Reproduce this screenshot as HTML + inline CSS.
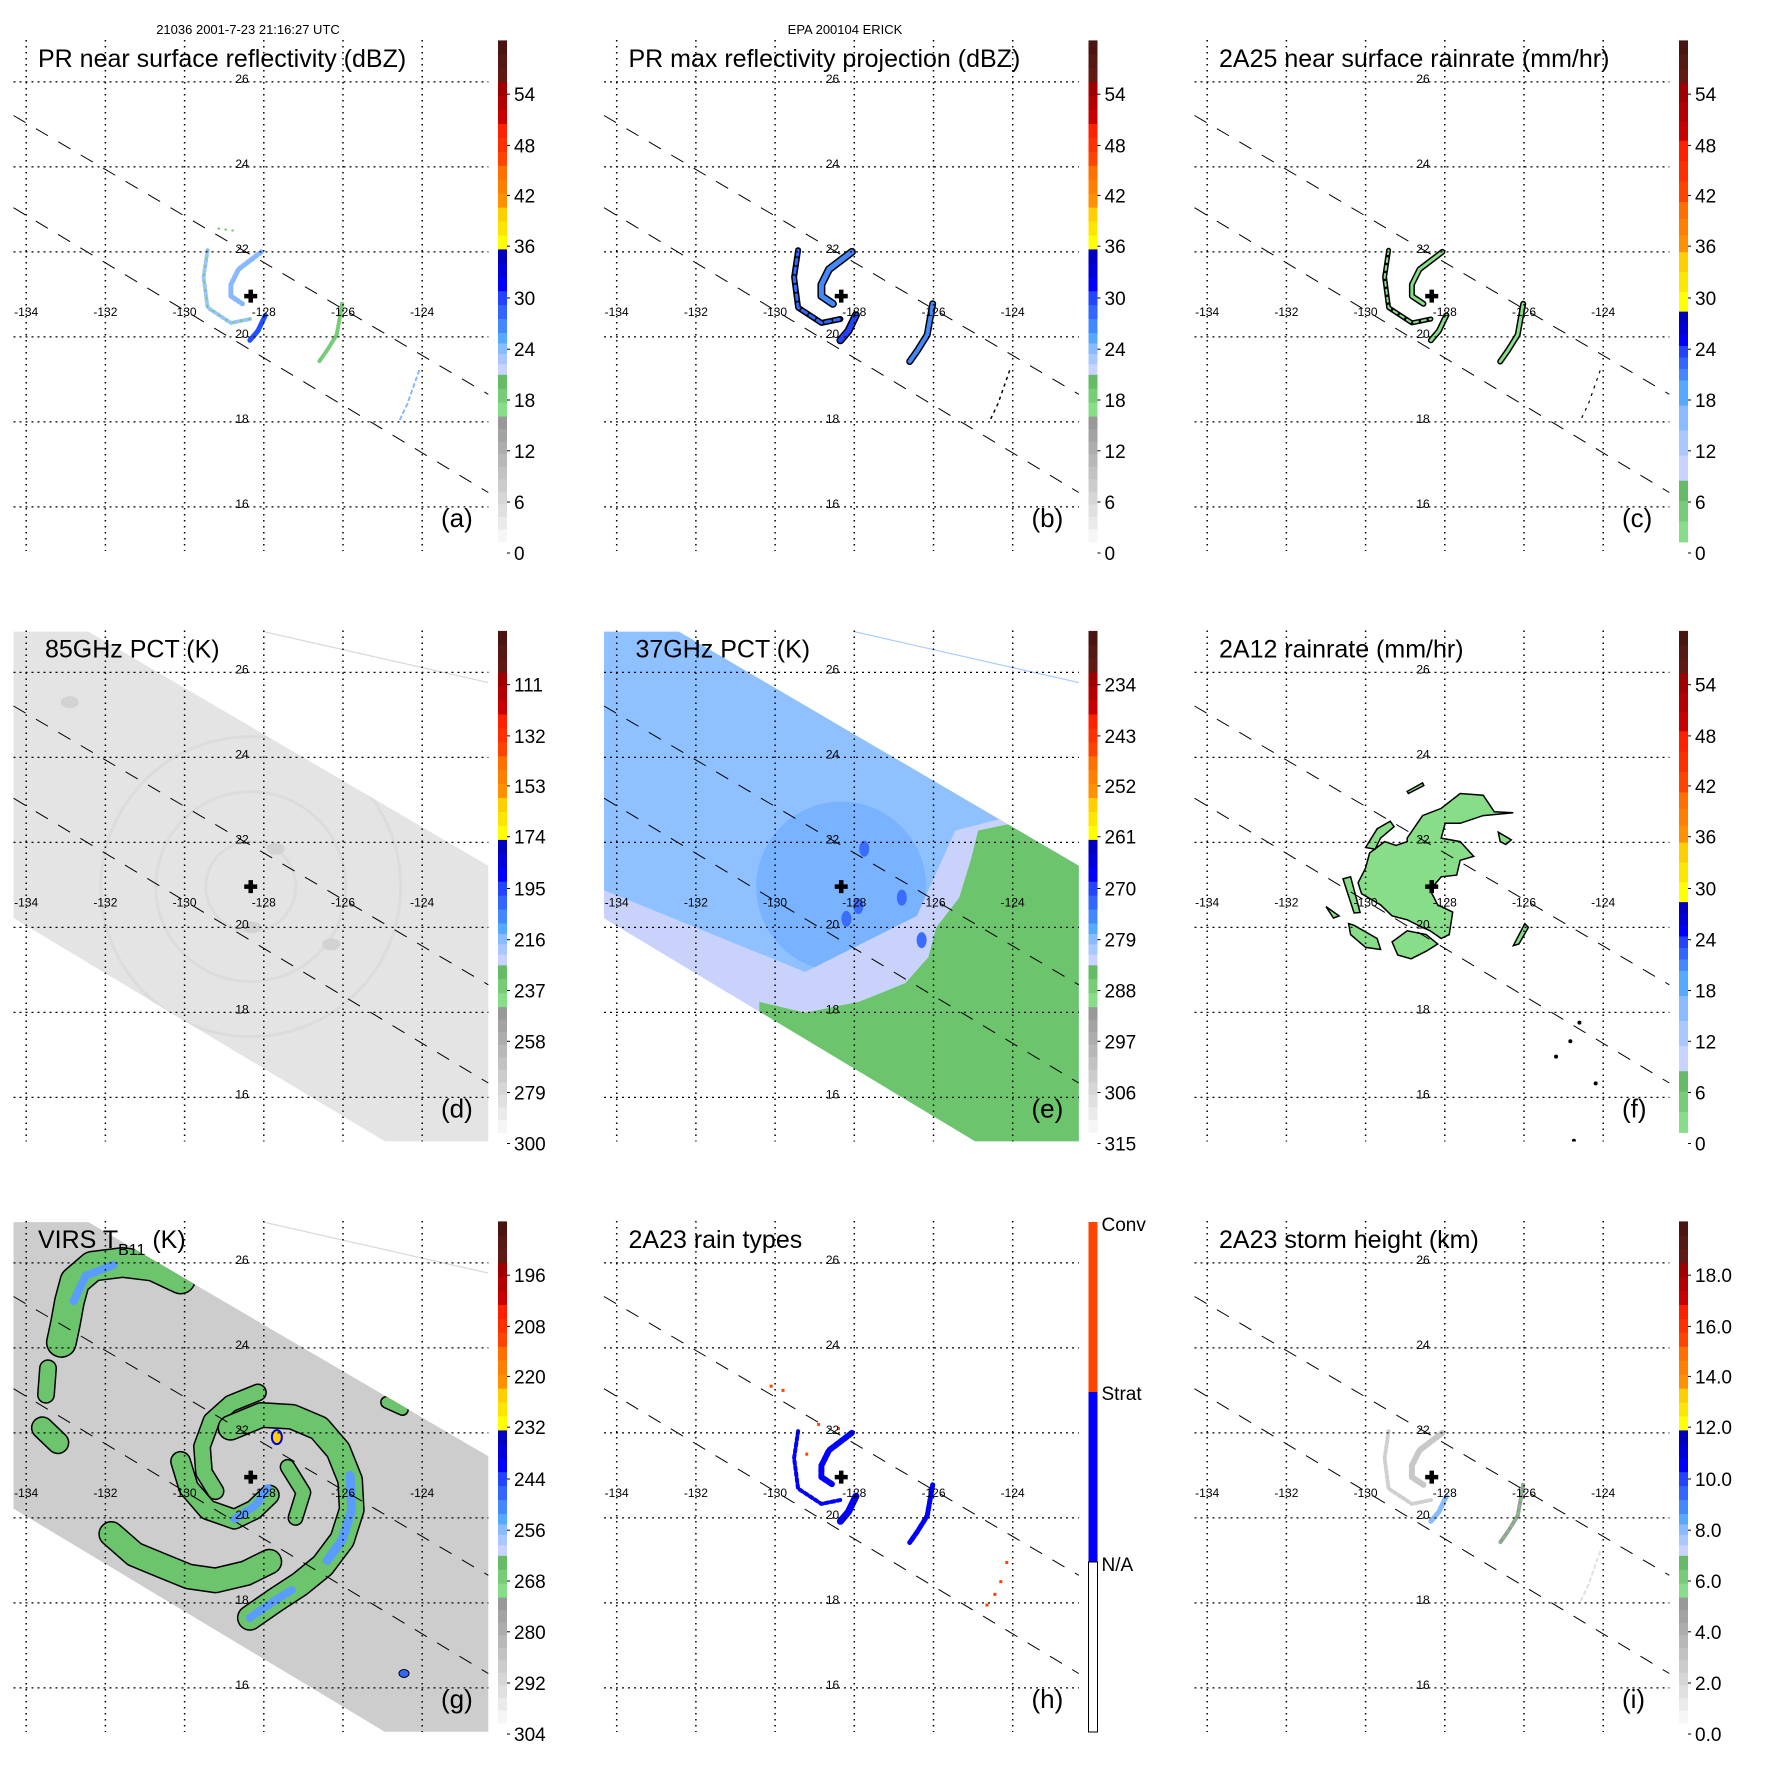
<!DOCTYPE html>
<html><head><meta charset="utf-8"><style>
html,body{margin:0;padding:0;background:#fff;}
svg{display:block;font-family:"Liberation Sans",Arial,sans-serif;}
</style></head><body>
<svg id="root" xmlns="http://www.w3.org/2000/svg" width="1771" height="1771" viewBox="0 0 1771 1771">
<rect x="0" y="0" width="1771" height="1771" fill="#fff"/>
<text x="248" y="34" font-size="13" text-anchor="middle">21036 2001-7-23 21:16:27 UTC</text>
<text x="845" y="34" font-size="13" text-anchor="middle">EPA 200104 ERICK</text>
</svg>
<script>
const LON_TICKS=[-134,-132,-130,-128,-126,-124];
const LAT_TICKS=[26,24,22,20,18,16];
const CENTER=[-128.33,20.96];
const SWATH=[[-134.32,26.96],[-132.43,26.96],[-122.33,21.45],[-122.33,14.97],[-124.95,14.97],[-134.32,20.22]];
const PR_EDGE_UP=[[-134.32,25.21],[-122.33,18.65]];
const PR_EDGE_LO=[[-134.32,23.04],[-122.33,16.34]];
const FAINT_LINE=[[-128.01,26.96],[-122.33,25.76]];
const PR_INNER=[[-128.06,22.0],[-128.64,21.59],[-128.83,21.23],[-128.83,20.96],[-128.54,20.78]];
const PR_OUTER=[[-129.42,22.04],[-129.52,21.41],[-129.42,20.69],[-128.83,20.33],[-128.35,20.42]];
const PR_SOUTH=[[-127.96,20.51],[-128.15,20.14],[-128.35,19.92]];
const PR_EAST=[[-126.02,20.78],[-126.16,20.05],[-126.40,19.69],[-126.60,19.42]];
const PR_SE=[[-124.08,19.2],[-124.37,18.43],[-124.56,18.06]];
const PR_NORTH=[[-129.15,22.55],[-128.75,22.5]];
const TMI_MAIN=[[-128.95,22.10],[-128.56,22.63],[-128.09,22.80],[-127.61,23.15],[-127.03,23.11],[-126.75,22.72],[-126.27,22.70],[-127.03,22.63],[-127.61,22.45],[-127.99,22.45],[-128.09,22.10],[-127.61,22.02],[-127.27,21.67],[-127.61,21.58],[-127.70,21.23],[-128.09,21.19],[-128.37,20.88],[-128.18,20.53],[-127.80,20.36],[-127.89,19.83],[-128.09,19.74],[-128.37,19.92],[-128.56,20.00],[-128.95,20.18],[-129.33,20.27],[-129.62,20.53],[-130.10,20.79],[-130.19,21.05],[-130.00,21.40],[-129.90,21.75],[-129.52,22.02],[-129.23,21.93],[-128.95,22.02]];
const TMI_PIECES=[
 [[-130.00,21.88],[-129.71,22.32],[-129.38,22.50],[-129.28,22.37],[-129.62,22.10],[-129.76,21.84]],
 [[-130.57,21.14],[-130.38,21.19],[-130.14,20.35],[-130.29,20.34]],
 [[-130.43,20.09],[-130.29,20.05],[-129.71,19.74],[-129.62,19.48],[-130.00,19.53],[-130.38,19.83]],
 [[-129.33,19.66],[-128.95,19.92],[-128.47,19.83],[-128.18,19.61],[-128.47,19.44],[-128.85,19.26],[-129.19,19.35]],
 [[-131.00,20.49],[-130.67,20.27],[-130.81,20.22]],
 [[-126.65,22.24],[-126.32,22.06],[-126.46,21.95],[-126.60,22.02]],
 [[-126.27,19.57],[-125.98,20.09],[-125.89,20.0],[-126.13,19.61]],
 [[-128.95,23.20],[-128.56,23.40],[-128.53,23.34],[-128.92,23.15]]
];
const TMI_DOTS=[[-124.60,17.76],[-124.83,17.32],[-125.19,16.96],[-124.19,16.33],[-124.74,14.98]];
const VIRS_BANDS=[
 {w:28,pts:[[-130.10,25.62],[-130.78,25.92],[-131.57,26.01],[-132.33,25.92],[-132.77,25.57],[-132.91,25.09],[-133.01,24.57],[-133.11,24.13]]},
 {w:15,pts:[[-133.45,23.52],[-133.50,22.90]]},
 {w:20,pts:[[-133.59,22.12],[-133.20,21.77]]},
 {w:15,pts:[[-128.15,22.95],[-128.84,22.69],[-129.32,22.29],[-129.56,21.68],[-129.51,21.07],[-129.22,20.63]]},
 {w:23,pts:[[-128.84,22.12],[-128.06,22.42],[-127.28,22.38],[-126.60,22.11],[-126.12,21.59],[-125.82,20.89],[-125.78,20.19],[-126.02,19.49],[-126.51,18.88],[-127.09,18.44],[-127.67,18.09],[-128.35,17.65]]},
 {w:18,pts:[[-130.10,21.33],[-129.90,20.71],[-129.42,20.19],[-128.74,19.97],[-128.25,20.19],[-127.86,20.54]]},
 {w:23,pts:[[-131.85,19.62],[-131.26,19.14],[-130.58,18.88],[-129.90,18.62],[-129.22,18.53],[-128.45,18.70],[-127.86,18.97]]},
 {w:13,pts:[[-127.4,21.2],[-127.0,20.6],[-127.2,20.0]]},
 {w:10,pts:[[-124.9,22.72],[-124.5,22.55]]}
];
const VIRS_COLD=[
 {w:9,pts:[[-125.82,21.0],[-125.78,20.19],[-126.02,19.49],[-126.4,19.0]]},
 {w:8,pts:[[-128.74,19.97],[-128.2,20.3],[-127.9,20.7]]},
 {w:8,pts:[[-128.35,17.65],[-127.67,18.09],[-127.3,18.3]]},
 {w:8,pts:[[-131.8,25.95],[-132.5,25.7],[-132.8,25.1]]}
];
const VIRS_WARMEST=[-127.67,21.90];
const VIRS_SMALL=[[-124.46,16.34]];
const E_LAVENDER=[[-134.33,20.88],[-129.24,18.95],[-126.42,20.27],[-125.45,22.28],[-123.99,22.63],[-122.0,22.63],[-122.0,14.5],[-134.33,14.5]];
const E_GREEN=[[-130.40,18.25],[-129.24,17.99],[-127.88,18.25],[-126.71,18.69],[-126.13,19.30],[-125.93,20.00],[-125.35,20.70],[-125.06,21.58],[-124.87,22.28],[-123.99,22.45],[-122.0,21.45],[-122.0,14.5],[-130.4,14.5]];
const E_COLD=[[-127.75,21.85],[-127.9,20.5],[-128.2,20.2],[-126.3,19.7],[-126.8,20.7]];
const H_CONV=[[-124.15,18.95],[-124.3,18.5],[-124.45,18.2],[-124.65,17.95],[-130.1,23.1],[-129.8,23.0],[-129.2,21.5],[-128.9,22.2],[-128.4,22.1]];
const SC_A=['54','48','42','36','30','24','18','12','6','0'];
const SC_D=['111','132','153','174','195','216','237','258','279','300'];
const SC_E=['234','243','252','261','270','279','288','297','306','315'];
const SC_G=['196','208','220','232','244','256','268','280','292','304'];
const SC_I=['18.0','16.0','14.0','12.0','10.0','8.0','6.0','4.0','2.0','0.0'];
const TICK_Y=[94.2,145.4,195.4,246.2,298,349.2,400,450.8,502,553];

const NS='http://www.w3.org/2000/svg';
const root=document.getElementById('root');
function X(lon){return 26.2+(lon+134)*39.6;}
function Y(lat){return 81.9+(26-lat)*42.5;}
function mk(tag,attrs,parent){const e=document.createElementNS(NS,tag);for(const k in attrs)e.setAttribute(k,attrs[k]);parent.appendChild(e);return e;}
function pts(arr){return arr.map(p=>X(p[0]).toFixed(1)+','+Y(p[1]).toFixed(1)).join(' ');}

const BLK={
 brown:['#4a1510','#561812','#601a14'],darkred:['#a00000','#b40000','#c80000'],red:['#ff2000','#ff3000','#ff4400'],
 orange:['#ff7000','#ff8000','#ff9000'],yellow:['#ffd000','#ffe600','#ffff00'],dblue:['#0000c0','#0000dd','#0000ff'],
 blue:['#2244ff','#3366ff','#4488ff'],lblue:['#55aaff','#88bbff','#aac8ff','#c8d4ff'],green:['#66bb66','#77cc77','#88dd88'],
 gray:['#999','#a3a3a3','#adadad','#b8b8b8','#c2c2c2','#cccccc','#d6d6d6','#e0e0e0','#eaeaea','#f6f6f6']
};
const SCALE_STD=[['brown',1],['darkred',1],['red',1],['orange',1],['yellow',1],['dblue',1],['blue',1],['lblue',1],['green',1],['gray',3]];
const SCALE_RAIN=[['brown',42.8],['darkred',57.6],['red',61.3],['orange',50.2],['yellow',59.5],['dblue',34.4],['blue',34.4],['lblue',100.4],['green',61.3]];

const PANELS=[
 {id:'a',c:0,r:0,title:'PR near surface reflectivity (dBZ)',scale:SCALE_STD,ticks:SC_A},
 {id:'b',c:1,r:0,title:'PR max reflectivity projection (dBZ)',scale:SCALE_STD,ticks:SC_A},
 {id:'c',c:2,r:0,title:'2A25 near surface rainrate (mm/hr)',scale:SCALE_RAIN,ticks:SC_A},
 {id:'d',c:0,r:1,title:'85GHz PCT (K)',scale:SCALE_STD,ticks:SC_D},
 {id:'e',c:1,r:1,title:'37GHz PCT (K)',scale:SCALE_STD,ticks:SC_E},
 {id:'f',c:2,r:1,title:'2A12 rainrate (mm/hr)',scale:SCALE_RAIN,ticks:SC_A},
 {id:'g',c:0,r:2,title:'VIRS',scale:SCALE_STD,ticks:SC_G},
 {id:'h',c:1,r:2,title:'2A23 rain types',scale:null,ticks:null},
 {id:'i',c:2,r:2,title:'2A23 storm height (km)',scale:SCALE_STD,ticks:SC_I}
];

function band(g,arr,color,w,dash,outline,name){
 if(outline){const o=mk('polyline',{points:pts(arr),fill:'none',stroke:'#000','stroke-width':w+3,'stroke-linejoin':'round','stroke-linecap':'round'},g);
  
  }
 const a={points:pts(arr),fill:'none',stroke:color,'stroke-width':w,'stroke-linejoin':'round','stroke-linecap':'round'};
 if(dash)a['stroke-dasharray']=dash;
 const l=mk('polyline',a,g);
 
 
 return l;
}

PANELS.forEach(P=>{
 const g=mk('g',{transform:'translate('+(P.c*590.5)+','+(P.r*590.5)+')'},root);
 
 
 const clip=mk('clipPath',{id:'sw'+P.id},g);
 mk('polygon',{points:pts(SWATH)},clip);
 const clip2=mk('clipPath',{id:'pl'+P.id},g);
 mk('rect',{x:13.5,y:40,width:475,height:511},clip2);
 const data=mk('g',{'clip-path':'url(#pl'+P.id+')'},g);
 
 

 if(P.id==='d'||P.id==='e'||P.id==='g'){
  const bg=mk('polygon',{points:pts(SWATH),fill:P.id==='d'?'#e4e4e4':(P.id==='e'?'#8fc0ff':'#cdcdcd')},data);
  
  
  const fl=mk('polyline',{points:pts(FAINT_LINE),fill:'none',stroke:P.id==='e'?'#a8ccff':'#d8d8d8','stroke-width':1.2},data);
  
  
 }
 if(P.id==='d'){
  const cg=mk('g',{'clip-path':'url(#swd)'},data);
  [45,95,150].forEach(rr=>{const c=mk('circle',{cx:X(CENTER[0]),cy:Y(CENTER[1]),r:rr,fill:'none',stroke:'#dcdcdc','stroke-width':3},cg);
   
   });
  [[-127.7,21.85],[-128.3,20.0],[-126.3,19.6],[-132.9,25.3]].forEach(p=>{const e=mk('ellipse',{cx:X(p[0]),cy:Y(p[1]),rx:9,ry:6,fill:'#d2d2d2'},cg);
   
   });
 }
 if(P.id==='e'){
  const cg=mk('g',{'clip-path':'url(#swe)'},data);
  const c1=mk('circle',{cx:X(CENTER[0]),cy:Y(CENTER[1]),r:85,fill:'#6aa8ff',opacity:0.6},cg);
  
  
  const lv=mk('polygon',{points:pts(E_LAVENDER),fill:'#c8d2fb'},cg);
  
  
  const gr=mk('polygon',{points:pts(E_GREEN),fill:'#6cc46c'},cg);
  
  
  E_COLD.forEach(p=>{const e=mk('ellipse',{cx:X(p[0]),cy:Y(p[1]),rx:5,ry:8,fill:'#3a6cff'},cg);
   
   });
 }
 if(P.id==='g'){
  const cg=mk('g',{'clip-path':'url(#swg)'},data);
  VIRS_BANDS.forEach((b,i)=>band(cg,b.pts,'#6cc46c',b.w,null,true,'cloud-band-'+i));
  VIRS_COLD.forEach((b,i)=>band(cg,b.pts,'#5a9cff',b.w,'6 3',false,'cold-band-'+i));
  const y=mk('ellipse',{cx:X(VIRS_WARMEST[0]),cy:Y(VIRS_WARMEST[1]),rx:5,ry:7,fill:'#ffd000',stroke:'#0000dd','stroke-width':2},cg);
  
  
  VIRS_SMALL.forEach(p=>{const e=mk('ellipse',{cx:X(p[0]),cy:Y(p[1]),rx:5,ry:4,fill:'#3366ff',stroke:'#000'},cg);
   
   });
 }
 if(P.id==='f'){
  const m=mk('polygon',{points:pts(TMI_MAIN),fill:'#88dd88',stroke:'#000','stroke-width':1.5},data);
  
  
  TMI_PIECES.forEach((pc,i)=>{const e=mk('polygon',{points:pts(pc),fill:'#88dd88',stroke:'#000','stroke-width':1.5},data);
   
   });
  TMI_DOTS.forEach(p=>{const e=mk('circle',{cx:X(p[0]),cy:Y(p[1]),r:2,fill:'#000'},data);
   
   });
 }
 if(P.id==='a'){
  band(data,PR_INNER,'#88b8ff',5,'3 2',false,'band-inner');
  band(data,PR_OUTER,'#99c4ff',4,'2 3',false,'band-outer');
  band(data,PR_OUTER,'#77cc77',2,'1 7',false,'band-outer-green');
  band(data,PR_SOUTH,'#2050ff',5,null,false,'band-south');
  band(data,PR_EAST,'#77cc77',4,'3 2',false,'band-east');
  band(data,PR_SE,'#88b8ff',2,'3 4',false,'band-se');
  band(data,PR_NORTH,'#77cc77',2,'1 6',false,'band-north');
 }
 if(P.id==='b'){
  band(data,PR_INNER,'#4488ff',5,null,true,'band-inner');
  band(data,PR_OUTER,'#3366ff',3,'5 4',true,'band-outer');
  band(data,PR_SOUTH,'#2244ff',5,null,true,'band-south');
  band(data,PR_EAST,'#4488ff',4,null,true,'band-east');
  band(data,PR_SE,'#000',1.5,'2 5',false,'band-se');
 }
 if(P.id==='c'){
  band(data,PR_INNER,'#88dd88',3,null,true,'band-inner');
  band(data,PR_OUTER,'#88dd88',2,'4 4',true,'band-outer');
  band(data,PR_SOUTH,'#88dd88',3,null,true,'band-south');
  band(data,PR_EAST,'#88dd88',3,null,true,'band-east');
  band(data,PR_SE,'#000',1.2,'2 6',false,'band-se');
 }
 if(P.id==='h'){
  band(data,PR_INNER,'#0000ff',6,'4 2',false,'band-inner');
  band(data,PR_OUTER,'#0000ff',4,'3 3',false,'band-outer');
  band(data,PR_SOUTH,'#0000ff',7,null,false,'band-south');
  band(data,PR_EAST,'#0000ff',5,'5 2',false,'band-east');
  H_CONV.forEach(p=>{const e=mk('rect',{x:X(p[0])-1.5,y:Y(p[1])-1.5,width:3,height:3,fill:'#ff4400'},data);
   
   });
 }
 if(P.id==='i'){
  band(data,PR_INNER,'#c8c8c8',6,'3 2',false,'band-inner');
  band(data,PR_OUTER,'#d0d0d0',4,'2 3',false,'band-outer');
  band(data,PR_SOUTH,'#88bbff',5,null,false,'band-south');
  band(data,PR_EAST,'#999',4,'3 2',false,'band-east');
  band(data,PR_EAST,'#77cc77',2,'2 5',false,'band-east-green');
  band(data,PR_SE,'#e0e0e0',2,'3 4',false,'band-se');
 }

 LON_TICKS.forEach(lon=>{const l=mk('line',{x1:X(lon),x2:X(lon),y1:40,y2:551,stroke:'#000','stroke-width':1.5,'stroke-dasharray':'1.5 4.5'},g);
  
  
  const t=mk('text',{x:X(lon),y:316,'font-size':12,'text-anchor':'middle'},g);t.textContent=String(lon);
  
  });
 LAT_TICKS.forEach(lat=>{const l=mk('line',{x1:13.5,x2:488.4,y1:Y(lat),y2:Y(lat),stroke:'#000','stroke-width':1.2,'stroke-dasharray':'2 4'},g);
  
  
  const t=mk('text',{x:X(-128.55),y:Y(lat)+1,'font-size':12,'text-anchor':'middle'},g);t.textContent=String(lat);
  
  });
 [PR_EDGE_UP,PR_EDGE_LO].forEach((e,i)=>{const l=mk('polyline',{points:pts(e),fill:'none',stroke:'#000','stroke-width':1,'stroke-dasharray':'14 12'},g);
  
  });
 const cx=X(CENTER[0]),cy=Y(CENTER[1]);
 const cr=mk('path',{d:`M${cx-6.5},${cy}H${cx+6.5}M${cx},${cy-6.5}V${cy+6.5}`,stroke:'#000','stroke-width':4.5},g);
 
 
 const tt=mk('text',{x:P.id==='d'||P.id==='e'?45:38,y:67,'font-size':25},g);
 
 
 if(P.id==='g'){tt.innerHTML='VIRS T<tspan font-size="16" dy="7">B11</tspan><tspan dy="-7"> (K)</tspan>';}
 else tt.textContent=P.title;
 const pl=mk('text',{x:441,y:527,'font-size':26},g);pl.textContent='('+P.id+')';
 
 
 const cb=mk('g',{},g);
 
 
 if(P.scale){
  const tot=P.scale.reduce((s,b)=>s+b[1],0);let y=40.4;const H=501.6;
  P.scale.forEach(b=>{const h=b[1]/tot*H;const cols=BLK[b[0]];const sh=h/cols.length;
   cols.forEach((c,k)=>{mk('rect',{x:498,y:(y+k*sh).toFixed(2),width:9,height:(sh+0.4).toFixed(2),fill:c},cb);});y+=h;});
  P.ticks.forEach((t,k)=>{mk('line',{x1:507,x2:510,y1:TICK_Y[k],y2:TICK_Y[k],stroke:'#000','stroke-width':1},cb);
   const tx=mk('text',{x:514,y:TICK_Y[k]+7,'font-size':19},cb);tx.textContent=t;
   
   });
 } else {
  mk('rect',{x:498,y:41,width:9,height:170,fill:'#ff4400'},cb);
  mk('rect',{x:498,y:211,width:9,height:170,fill:'#0000ff'},cb);
  mk('rect',{x:498,y:381,width:9,height:170,fill:'#fff',stroke:'#000','stroke-width':1},cb);
  [['Conv',50],['Strat',219],['N/A',390]].forEach(l=>{const tx=mk('text',{x:511,y:l[1],'font-size':19},cb);tx.textContent=l[0];
   
   });
 }
});
</script>
</body></html>
